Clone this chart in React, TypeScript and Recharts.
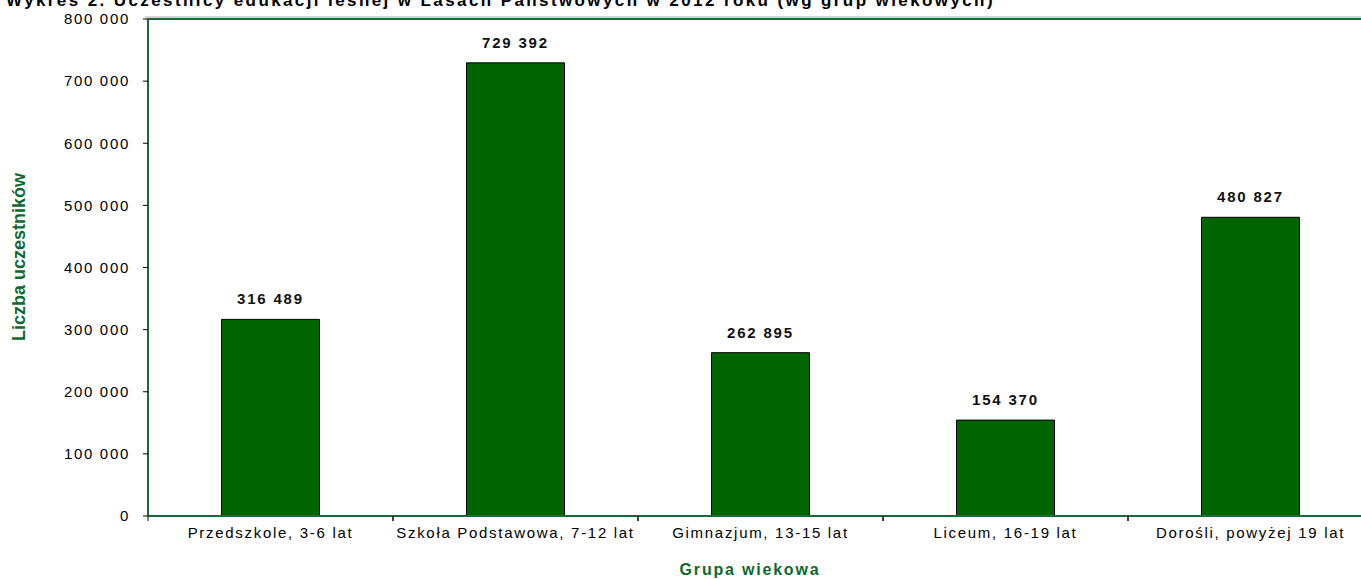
import React from 'react';
import { BarChart, Bar, XAxis, YAxis, LabelList, ReferenceLine, Label } from 'recharts';

const categories = [
  'Przedszkole, 3-6 lat',
  'Szkoła Podstawowa, 7-12 lat',
  'Gimnazjum, 13-15 lat',
  'Liceum, 16-19 lat',
  'Dorośli, powyżej 19 lat',
];
const participants = [316489, 729392, 262895, 154370, 480827];
const yTicks = [0, 100000, 200000, 300000, 400000, 500000, 600000, 700000, 800000];

const data = categories.map((c, i) => ({ name: c, value: participants[i] }));

const FONT = '"Liberation Sans", Arial, sans-serif';
const GREEN_FRAME = '#176b38';
const GREEN_TITLE = '#0d6a2e';
const BAR_GREEN = '#006400';

const fmt = (v: number) => {
  const s = Math.round(v).toString();
  return s.replace(/\B(?=(\d{3})+(?!\d))/g, ' ');
};

const XTick = (props: any) => {
  const { x, y, payload } = props;
  const off = payload && typeof payload.offset === 'number' ? payload.offset : 0;
  return (
    <g>
      <line x1={x - off} x2={x - off} y1={y} y2={y + 5} stroke="#000" strokeWidth={1} />
      <line x1={x + off} x2={x + off} y1={y} y2={y + 5} stroke="#000" strokeWidth={1} />
      <text
        x={x}
        y={y + 22}
        textAnchor="middle"
        fontFamily={FONT}
        fontSize={15}
        letterSpacing={1.7}
        fill="#000"
      >
        {payload.value}
      </text>
    </g>
  );
};

const TopFrame = (props: any) => {
  const { x1, x2, y1 } = props;
  return (
    <g>
      <line x1={x1 - 3} x2={x2} y1={y1 - 2} y2={y1 - 2} stroke="#a8a8a8" strokeWidth={1} />
      <line x1={x1} x2={x2} y1={y1} y2={y1} stroke={GREEN_FRAME} strokeWidth={2} />
    </g>
  );
};

export default function App() {
  return (
    <div style={{ position: 'absolute', left: 0, top: 0, width: 1361, height: 579, overflow: 'hidden', background: '#fff' }}>
      <svg width={1361} height={20} style={{ position: 'absolute', left: 0, top: 0 }}>
        <text x={6} y={6} fontFamily={FONT} fontSize={17} fontWeight="bold" letterSpacing={2.4} fill="#000">
          Wykres 2. Uczestnicy edukacji leśnej w Lasach Państwowych w 2012 roku (wg grup wiekowych)
        </text>
      </svg>
      <BarChart
        width={1380}
        height={579}
        data={data}
        margin={{ top: 19, right: 7, bottom: 0, left: 0 }}
        barCategoryGap="30%"
      >
        <XAxis
          dataKey="name"
          height={63}
          tickLine={false}
          tickSize={0}
          tickMargin={0}
          axisLine={{ stroke: GREEN_FRAME, strokeWidth: 2 }}
          tick={<XTick />}
          interval={0}
        >
          <Label
            content={() => (
              <text x={750} y={575} textAnchor="middle" fontFamily={FONT} fontSize={16} fontWeight="bold" letterSpacing={1.8} fill={GREEN_TITLE}>
                Grupa wiekowa
              </text>
            )}
          />
        </XAxis>
        <YAxis
          width={148}
          domain={[0, 800000]}
          ticks={yTicks}
          interval={0}
          tickSize={5}
          tickMargin={13}
          tickLine={{ stroke: '#000' }}
          axisLine={{ stroke: GREEN_FRAME, strokeWidth: 2 }}
          tickFormatter={fmt}
          tick={{ fill: '#000', fontSize: 15, fontFamily: FONT, letterSpacing: 1.7 }}
        >
          <Label
            content={() => (
              <text transform="translate(25,257) rotate(-90)" textAnchor="middle" fontFamily={FONT} fontSize={18} fontWeight="bold" fill={GREEN_TITLE}>
                Liczba uczestników
              </text>
            )}
          />
        </YAxis>
        <ReferenceLine y={800000} shape={<TopFrame />} />
        <Bar dataKey="value" fill={BAR_GREEN} stroke="#000" strokeWidth={1} isAnimationActive={false}>
          <LabelList
            dataKey="value"
            position="top"
            offset={15}
            formatter={(v: any) => fmt(Number(v))}
            fill="#111"
            fontFamily={FONT}
            fontSize={15}
            fontWeight="bold"
            letterSpacing={1.8}
          />
        </Bar>
      </BarChart>
    </div>
  );
}
